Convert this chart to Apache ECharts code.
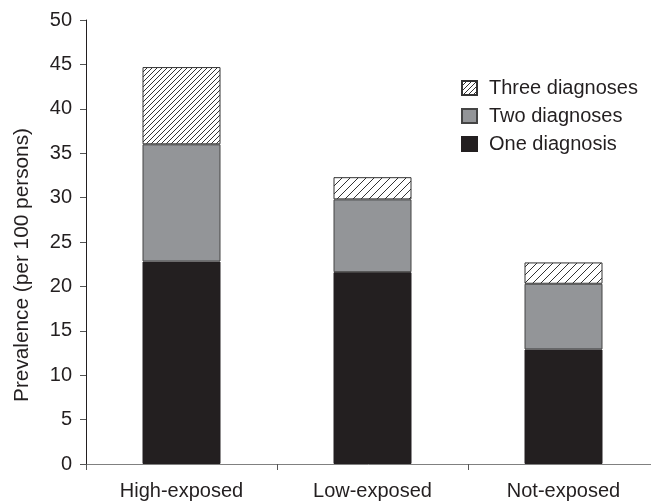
<!DOCTYPE html>
<html><head><meta charset="utf-8">
<script src="https://cdn.jsdelivr.net/npm/echarts@6/dist/echarts.min.js"></script>
<style>html,body{margin:0;padding:0;background:#fff}#c{width:651px;height:504px}</style>
</head><body><div id="c"></div>
<script>
const categories = ['High-exposed', 'Low-exposed', 'Not-exposed'];
const oneDiagnosis = [22.8, 21.6, 12.9];
const twoDiagnoses = [13.2, 8.2, 7.4];
const threeDiagnoses = [8.7, 2.5, 2.4];
const yTicks = [0, 5, 10, 15, 20, 25, 30, 35, 40, 45, 50];

function hatch(s) {
  const c = document.createElement('canvas');
  c.width = s; c.height = s;
  const g = c.getContext('2d');
  g.fillStyle = '#fff'; g.fillRect(0, 0, s, s);
  g.strokeStyle = '#333'; g.lineWidth = 1;
  g.beginPath();
  g.moveTo(-1, s + 1); g.lineTo(s + 1, -1);
  g.moveTo(-1, 1); g.lineTo(1, -1);
  g.moveTo(s - 1, s + 1); g.lineTo(s + 1, s - 1);
  g.stroke();
  return {image: c, repeat: 'repeat'};
}
const hatchSpacing = [5, 8, 8];

const font = 'Liberation Sans, Arial, sans-serif';
const chart = echarts.init(document.getElementById('c'));
chart.setOption({
  animation: false,
  grid: {left: 86, top: 20, width: 573, bottom: 40, containLabel: false, outerBoundsMode: 'none'},
  legend: {
    data: ['Three diagnoses', 'Two diagnoses', 'One diagnosis'],
    orient: 'vertical', left: 461, top: 78, itemWidth: 15, itemHeight: 14, itemGap: 8,
    icon: 'rect', padding: 0,
    textStyle: {fontFamily: font, fontSize: 20, color: '#231f20', padding: [0, 0, 0, 7]}
  },
  graphic: [{
    type: 'text', x: 22, y: 265, rotation: Math.PI / 2,
    style: {text: 'Prevalence (per 100 persons)', fontFamily: font, fontSize: 20.8, fill: '#231f20',
      align: 'center', verticalAlign: 'middle'}
  }],
  xAxis: {
    type: 'category', data: categories,
    axisLine: {lineStyle: {color: '#808080', width: 1}},
    axisTick: {show: true, length: 6, alignWithLabel: false, lineStyle: {color: '#555'}},
    axisLabel: {fontFamily: font, fontSize: 20, color: '#231f20', margin: 17}
  },
  yAxis: {
    type: 'value', min: yTicks[0], max: yTicks[yTicks.length - 1], interval: 5,
    splitLine: {show: false},
    axisLine: {show: true, lineStyle: {color: '#231f20', width: 1}},
    axisTick: {show: true, length: 6, lineStyle: {color: '#555'}},
    axisLabel: {fontFamily: font, fontSize: 20, color: '#231f20', margin: 14}
  },
  series: [
    {name: 'One diagnosis', type: 'bar', stack: 's', barWidth: 78, data: oneDiagnosis,
      itemStyle: {color: '#231f20', borderColor: '#231f20', borderWidth: 1}},
    {name: 'Two diagnoses', type: 'bar', stack: 's', barWidth: 78, data: twoDiagnoses,
      itemStyle: {color: '#939598', borderColor: '#444', borderWidth: 1}},
    {name: 'Three diagnoses', type: 'bar', stack: 's', barWidth: 78,
      data: threeDiagnoses.map((v, i) => ({value: v, itemStyle: {color: hatch(hatchSpacing[i])}})),
      itemStyle: {color: hatch(5), borderColor: '#333', borderWidth: 1}}
  ]
});
</script></body></html>
